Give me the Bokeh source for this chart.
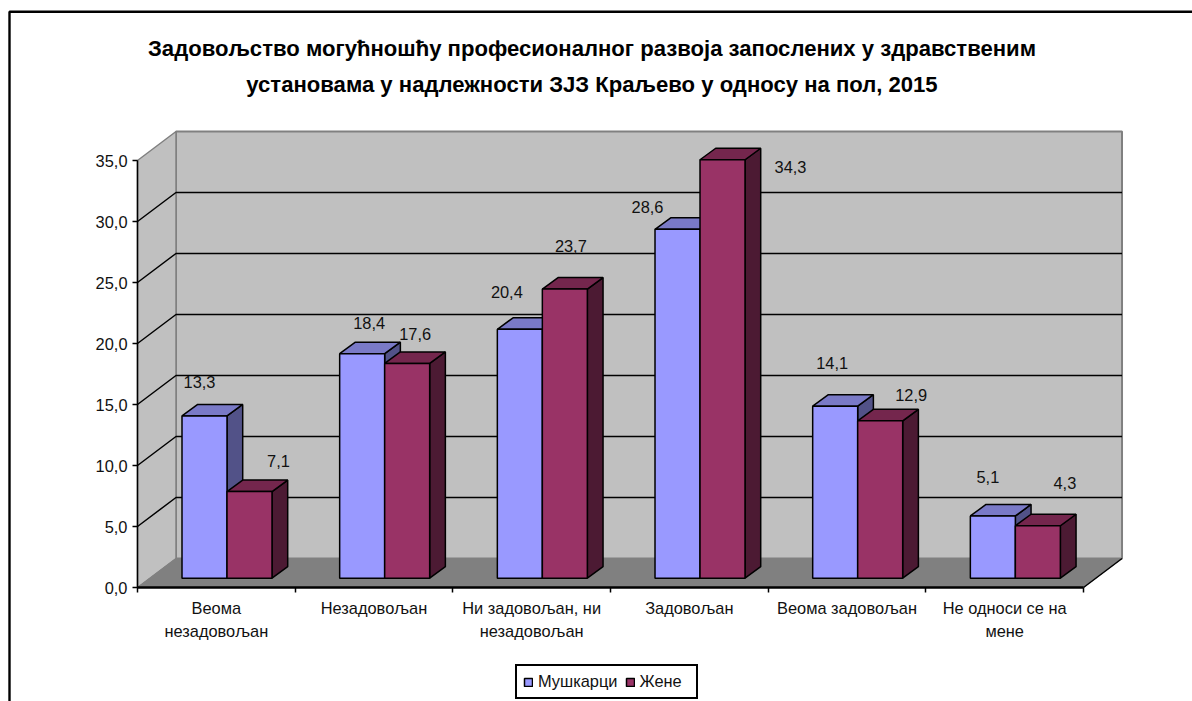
from bokeh.plotting import figure
from bokeh.models import (Range1d, LinearAxis, FixedTicker, Label, Legend, LegendItem,
                          ColumnDataSource)
from bokeh.core.properties import value
from bokeh.embed import file_html
from bokeh.resources import INLINE

TITLE_LINES = ["Задовољство могућношћу професионалног развоја запослених у здравственим",
               "установама у надлежности ЗЈЗ Краљево у односу на пол, 2015"]
CATEGORIES = ["Веома\nнезадовољан", "Незадовољан", "Ни задовољан, ни\nнезадовољан",
              "Задовољан", "Веома задовољан", "Не односи се на\nмене"]
MEN = [13.3, 18.4, 20.4, 28.6, 14.1, 5.1]
WOMEN = [7.1, 17.6, 23.7, 34.3, 12.9, 4.3]
Y_TICKS = [0, 5, 10, 15, 20, 25, 30, 35]
SERIES_NAMES = ["Мушкарци", "Жене"]

# label nudges relative to each bar's top, in pixels
MEN_LABEL_DX = [-5, 7, -13, -30, -3, -5]
MEN_LABEL_DY = [-34, -31, -37, -22, -43, -39]
WOMEN_LABEL_DX = [29, 8, 6, 68, 31, 27]
WOMEN_LABEL_DY = [-31, -29, -43, 7, -26, -43]

W, H = 1192, 701
X0, Y0 = 137.0, 587.0        # page pixel of the axis origin
UX, UY = 157.67, 12.2        # pixels per category / per value unit
FONT = "Liberation Sans"
FS = "16.4px"


def dx(px):
    return (px - X0) / UX


def dy(py):
    return (Y0 - py) / UY


DEPTH_X, DEPTH_Y = 38.5 / UX, 29 / UY
BAR_W = 45 / UX
BAR_START = 44.5 / UX
BAR_BASE = 9.3 / UY
BAR_DX, BAR_DY = 15.7 / UX, 11.5 / UY
Y_MAX = max(Y_TICKS)
N = len(CATEGORIES)

p = figure(width=W, height=H, output_backend="svg", toolbar_location=None,
           x_range=Range1d(dx(0), dx(W)), y_range=Range1d(dy(H), dy(0)),
           min_border=0, x_axis_location=None, y_axis_location=None,
           background_fill_color="white", border_fill_color="white", outline_line_color=None)
p.xgrid.visible = False
p.ygrid.visible = False

# chart border (only top and left edges fall on the page)
p.line([dx(9), dx(9), dx(W)], [dy(H), dy(11.3), dy(11.3)], line_color="black", line_width=2.4)

# walls and floor
p.patch([DEPTH_X, N + DEPTH_X, N + DEPTH_X, DEPTH_X],
        [DEPTH_Y, DEPTH_Y, Y_MAX + DEPTH_Y, Y_MAX + DEPTH_Y],
        fill_color="#C0C0C0", line_color="#808080", line_width=2)
p.patch([0, DEPTH_X, DEPTH_X, 0], [0, DEPTH_Y, Y_MAX + DEPTH_Y, Y_MAX],
        fill_color="#C0C0C0", line_color="#808080", line_width=1.5)
p.patch([0, N, N + DEPTH_X, DEPTH_X], [0, 0, DEPTH_Y, DEPTH_Y],
        fill_color="#808080", line_color="#808080", line_width=1)
p.line([N, N + DEPTH_X], [0, DEPTH_Y], line_color="black", line_width=1.5)

# gridlines across side and back walls
grid = [t for t in Y_TICKS if 0 < t < Y_MAX]
p.multi_line([[0, DEPTH_X, N + DEPTH_X] for _ in grid],
             [[t, t + DEPTH_Y, t + DEPTH_Y] for t in grid],
             line_color="black", line_width=1.5)


def bars(vals, offset, front, top, side):
    lefts = [i + BAR_START + offset for i in range(N)]
    rights = [l + BAR_W for l in lefts]
    p.patches([[r, r + BAR_DX, r + BAR_DX, r] for r in rights],
              [[BAR_BASE, BAR_BASE + BAR_DY, BAR_BASE + v + BAR_DY, BAR_BASE + v] for v in vals],
              fill_color=side, line_color="black", line_width=1.5)
    p.patches([[l, r, r + BAR_DX, l + BAR_DX] for l, r in zip(lefts, rights)],
              [[BAR_BASE + v, BAR_BASE + v, BAR_BASE + v + BAR_DY, BAR_BASE + v + BAR_DY] for v in vals],
              fill_color=top, line_color="black", line_width=1.5)
    return p.quad(left=lefts, right=rights, bottom=BAR_BASE, top=[BAR_BASE + v for v in vals],
                  fill_color=front, line_color="black", line_width=1.5)


r_men = bars(MEN, 0, "#9999FF", "#7A7AC7", "#525288")
r_women = bars(WOMEN, BAR_W, "#993366", "#74264D", "#4C1A33")


def value_labels(vals, offset, ldx, ldy):
    src = ColumnDataSource(dict(
        x=[i + BAR_START + offset + BAR_W / 2 for i in range(N)],
        y=[BAR_BASE + v for v in vals],
        t=[f"{v:.1f}".replace(".", ",") for v in vals],
        ox=ldx, oy=ldy))
    p.text(x="x", y="y", text="t", x_offset="ox", y_offset="oy", source=src,
           text_font=value(FONT), text_font_size=FS, text_color="#111111",
           text_align="center", text_baseline="middle")


value_labels(MEN, 0, MEN_LABEL_DX, MEN_LABEL_DY)
value_labels(WOMEN, BAR_W, WOMEN_LABEL_DX, WOMEN_LABEL_DY)

# axes
yax = LinearAxis(ticker=FixedTicker(ticks=Y_TICKS), bounds=(0, Y_MAX), fixed_location=0,
                 major_label_overrides={t: f"{t:.1f}".replace(".", ",") for t in Y_TICKS},
                 axis_line_color="black", axis_line_width=1.5,
                 major_tick_line_color="black", major_tick_line_width=1.5,
                 major_tick_in=0, major_tick_out=5, minor_tick_line_color=None,
                 major_label_standoff=5, major_label_text_font=FONT,
                 major_label_text_font_size=FS, major_label_text_color="#111111")
p.add_layout(yax, "left")

xax = LinearAxis(ticker=FixedTicker(ticks=[i + 0.5 for i in range(N)], minor_ticks=list(range(N + 1))),
                 bounds=(0, N), fixed_location=0,
                 major_label_overrides={i + 0.5: c for i, c in enumerate(CATEGORIES)},
                 axis_line_color="black", axis_line_width=2.5,
                 major_tick_line_color=None, major_tick_in=0, major_tick_out=0,
                 minor_tick_line_color="black", minor_tick_line_width=1.5,
                 minor_tick_in=0, minor_tick_out=5,
                 major_label_standoff=6, major_label_orientation="horizontal",
                 major_label_text_font=FONT, major_label_text_font_size=FS,
                 major_label_text_color="#111111", major_label_text_line_height=1.3)
p.add_layout(xax, "below")

# title
for line, py in zip(TITLE_LINES, [48, 83.5]):
    p.add_layout(Label(x=dx(591.5), y=dy(py), text=line, text_font=FONT, text_font_style="bold",
                       text_font_size="22.1px", text_align="center", text_baseline="middle",
                       text_color="black"))

legend = Legend(items=[LegendItem(label=SERIES_NAMES[0], renderers=[r_men]),
                       LegendItem(label=SERIES_NAMES[1], renderers=[r_women])],
                orientation="horizontal", location=(515, H - 699),
                glyph_width=10, glyph_height=10, label_text_font=FONT, label_text_font_size=FS,
                label_text_color="#111111", label_standoff=5, spacing=7, padding=6, margin=0,
                border_line_color="black", border_line_width=2, border_line_alpha=1,
                background_fill_color="white",
                background_fill_alpha=1, label_height=15, label_width=50)
p.add_layout(legend)

open("out.html", "w").write(file_html(p, INLINE))
